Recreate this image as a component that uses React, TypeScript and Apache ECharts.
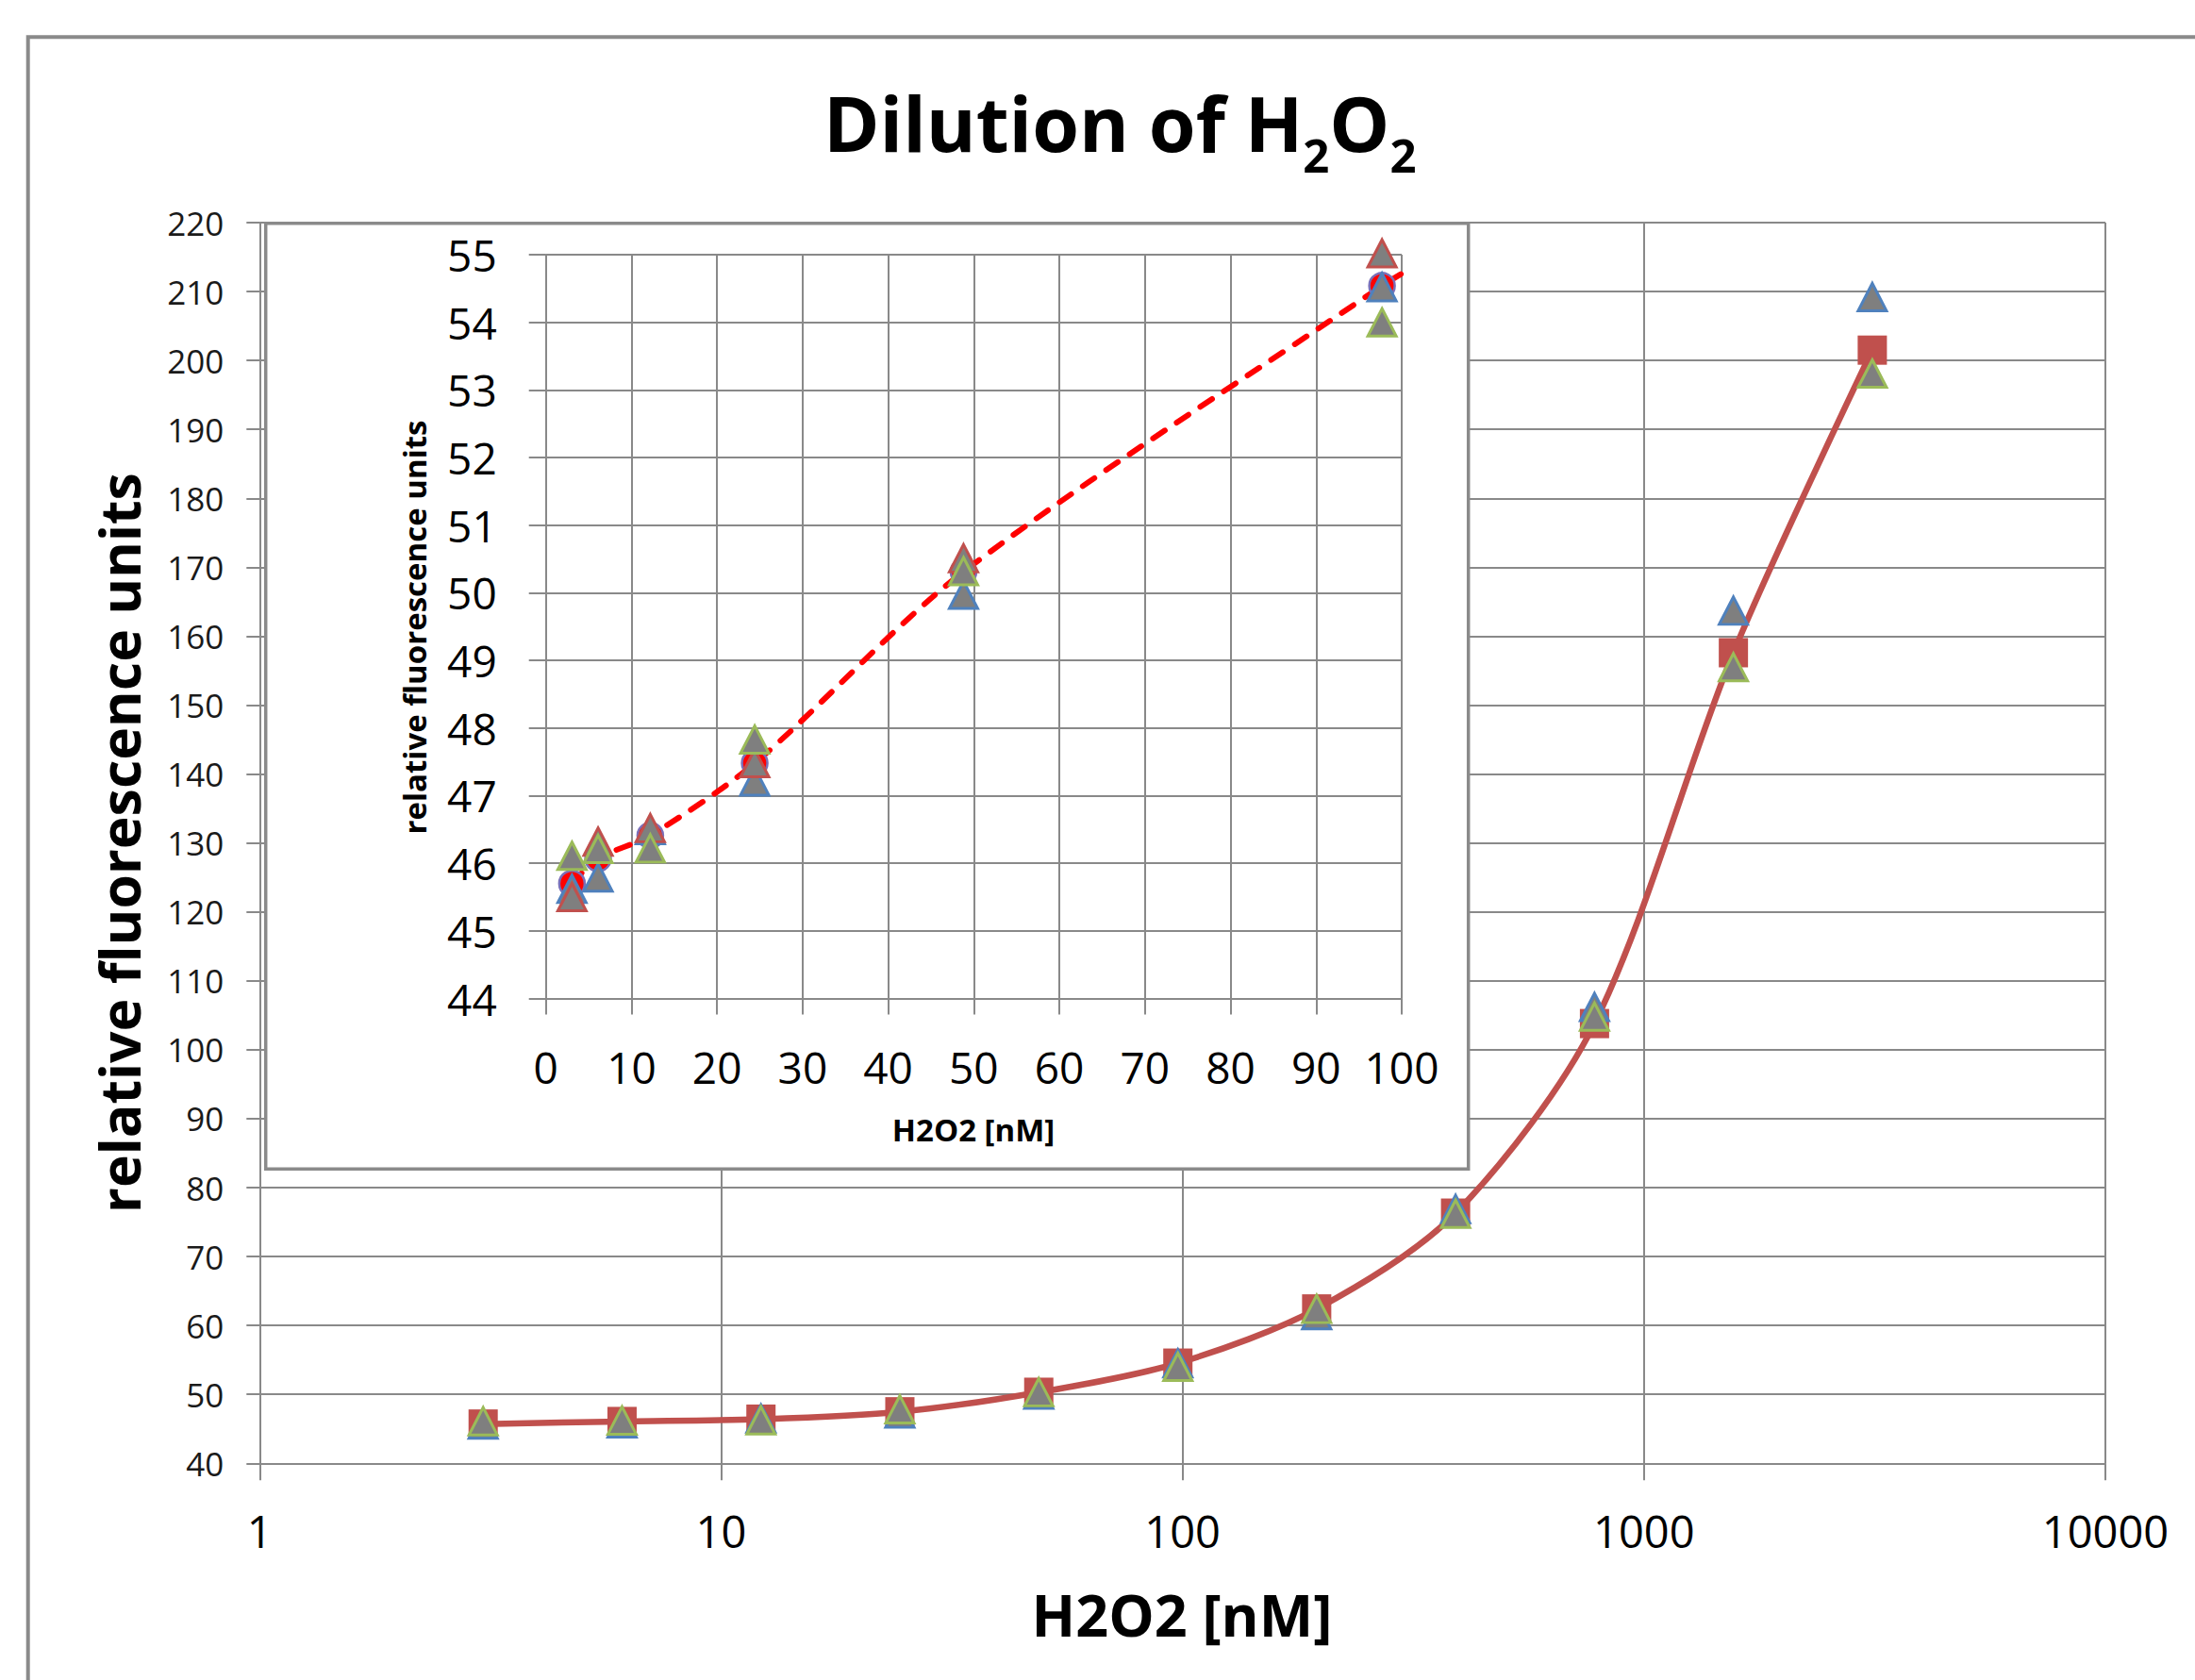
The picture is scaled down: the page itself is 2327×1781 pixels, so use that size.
import React, { useEffect, useRef } from "react";
import * as echarts from "echarts";

// ---- data ----
// H2O2 concentrations (nM), serial 1:2 dilution from 3125 nM
const concentrations = [3.05, 6.1, 12.2, 24.4, 48.8, 97.7, 195.3, 390.6, 781.3, 1562.5, 3125];
// mean relative fluorescence units (red squares / red circles)
const meanRFU = [45.7, 46.07, 46.41, 47.48, 50.31, 54.54, 62.4, 76.3, 103.8, 157.6, 201.5];
// replicate shown with blue-edged triangles
const blueRFU = [45.62, 45.79, 46.49, 47.21, 49.97, 54.52, 61.5, 76.9, 106.2, 163.7, 209.2];
// replicate shown with green-edged triangles
const greenRFU = [46.11, 46.21, 46.22, 47.83, 50.32, 54.0, 62.4, 76.2, 104.8, 155.5, 198.1];
// replicate shown with red-edged triangles (inset only)
const redRFU = [45.5, 46.32, 46.52, 47.48, 50.51, 55.02];
// number of lowest concentrations shown in the inset
const insetCount = 6;
// dashed trend line continues to the inset's right edge
const trendExtensionX = [100];
const trendExtensionY = [54.72];

// axis ranges / ticks
const mainXTicks = [1, 10, 100, 1000, 10000];
const mainY = { min: 40, max: 220, interval: 10 };
const insetX = { min: 0, max: 100, interval: 10 };
const insetY = { min: 44, max: 55, interval: 1 };

const FONT = "'Open Sans', 'Noto Sans', sans-serif";
const GRID_GRAY = "#898989";
const RED = "#C0504D";
const BLUE = "#4F81BD";
const GREEN = "#9BBB59";
const FILL_GRAY = "#7F7F7F";

const pairs = (xs: number[], ys: number[]) => ys.map((y, i) => [xs[i], y]);

function buildOption(): any {
  const lowX = concentrations.slice(0, insetCount);
  const trendData = pairs(lowX, meanRFU.slice(0, insetCount)).concat(
    pairs(trendExtensionX, trendExtensionY)
  );

  const axisLineStyle = { color: GRID_GRAY, width: 2 };
  const splitLine = { show: true, lineStyle: { color: GRID_GRAY, width: 2 } };

  const triangle = (name: string, data: number[][], edge: string, xi: number, z: number) => ({
    type: "scatter",
    name,
    xAxisIndex: xi,
    yAxisIndex: xi,
    data,
    clip: false,
    symbol: "triangle",
    symbolSize: [30, 29],
    itemStyle: { color: FILL_GRAY, borderColor: edge, borderWidth: 3, opacity: 1 },
    z,
    silent: true,
  });

  return {
    animation: false,
    backgroundColor: "#ffffff",
    grid: [
      { left: 275.3, top: 236, right: 95, bottom: 229.7 },
      { left: 578.7, top: 270, width: 907.3, height: 788.5 },
    ],
    xAxis: [
      {
        type: "log",
        logBase: 10,
        gridIndex: 0,
        min: mainXTicks[0],
        max: mainXTicks[mainXTicks.length - 1],
        axisLine: { show: true, onZero: false, lineStyle: axisLineStyle },
        axisTick: { show: true, inside: false, length: 18, lineStyle: axisLineStyle },
        minorTick: { show: false },
        minorSplitLine: { show: false },
        splitLine,
        axisLabel: {
          margin: 48,
          fontSize: 47,
          fontFamily: FONT,
          color: "#000",
          formatter: (v: number) => String(Math.round(v)),
        },
        z: 0,
      },
      {
        type: "value",
        gridIndex: 1,
        min: insetX.min,
        max: insetX.max,
        interval: insetX.interval,
        axisLine: { show: true, onZero: false, lineStyle: axisLineStyle },
        axisTick: { show: true, inside: false, length: 17, lineStyle: axisLineStyle },
        splitLine,
        axisLabel: { margin: 49, fontSize: 46, fontFamily: FONT, color: "#000", interval: 0 },
        z: 11,
      },
    ],
    yAxis: [
      {
        type: "value",
        gridIndex: 0,
        min: mainY.min,
        max: mainY.max,
        interval: mainY.interval,
        axisLine: { show: true, onZero: false, lineStyle: axisLineStyle },
        axisTick: { show: true, inside: false, length: 14, lineStyle: axisLineStyle },
        splitLine,
        axisLabel: { margin: 38, fontSize: 35, fontFamily: FONT, color: "#1a1a1a" },
        z: 0,
      },
      {
        type: "value",
        gridIndex: 1,
        min: insetY.min,
        max: insetY.max,
        interval: insetY.interval,
        axisLine: { show: true, onZero: false, lineStyle: axisLineStyle },
        axisTick: { show: true, inside: false, length: 18, lineStyle: axisLineStyle },
        splitLine,
        axisLabel: { margin: 52, fontSize: 46, fontFamily: FONT, color: "#000" },
        z: 11,
      },
    ],
    series: [
      {
        type: "line",
        name: "mean",
        xAxisIndex: 0,
        yAxisIndex: 0,
        data: pairs(concentrations, meanRFU),
        clip: false,
        smooth: 0.3,
        symbol: "rect",
        symbolSize: 31,
        showAllSymbol: true,
        itemStyle: { color: RED },
        lineStyle: { color: RED, width: 6.5 },
        z: 2,
        silent: true,
      },
      triangle("replicate A", pairs(concentrations, blueRFU), BLUE, 0, 3),
      triangle("replicate C", pairs(concentrations, greenRFU), GREEN, 0, 4),
      {
        type: "line",
        name: "trend",
        xAxisIndex: 1,
        yAxisIndex: 1,
        data: trendData,
        clip: false,
        smooth: 0.3,
        symbol: "none",
        lineStyle: { color: "#FF0000", width: 6, type: [15, 15], cap: "round" },
        z: 12,
        silent: true,
      },
      {
        type: "scatter",
        name: "mean (inset)",
        xAxisIndex: 1,
        yAxisIndex: 1,
        data: pairs(lowX, meanRFU.slice(0, insetCount)),
        clip: false,
        symbol: "circle",
        symbolSize: 27,
        itemStyle: { color: "#FF0000", borderColor: "#7B6FB8", borderWidth: 2.5, opacity: 1 },
        z: 13,
        silent: true,
      },
      triangle("replicate A (inset)", pairs(lowX, blueRFU.slice(0, insetCount)), BLUE, 1, 14),
      triangle("replicate B (inset)", pairs(lowX, redRFU), RED, 1, 15),
      triangle("replicate C (inset)", pairs(lowX, greenRFU.slice(0, insetCount)), GREEN, 1, 16),
    ],
    graphic: {
      elements: [
        {
          type: "rect",
          z: 0,
          silent: true,
          shape: { x: 29.7, y: 39.3, width: 2500, height: 2000 },
          style: { fill: "none", stroke: "#8a8a8a", lineWidth: 4 },
        },
        {
          type: "rect",
          z: 8,
          silent: true,
          shape: { x: 281.7, y: 236.7, width: 1275, height: 1002.6 },
          style: { fill: "#ffffff", stroke: "#8a8a8a", lineWidth: 3.5 },
        },
        {
          type: "text",
          z: 20,
          x: 873,
          y: 130,
          silent: true,
          style: {
            text: "{m|Dilution of H}{s|2}{m|O}{s|2}",
            align: "left",
            verticalAlign: "middle",
            fill: "#000",
            rich: {
              m: { fontSize: 80.5, fontWeight: "bold", fontFamily: FONT, fill: "#000", lineHeight: 100 },
              s: {
                fontSize: 49,
                fontWeight: "bold",
                fontFamily: FONT,
                fill: "#000",
                lineHeight: 100,
                padding: [68, 0, 0, 0],
              },
            },
          },
        },
        {
          type: "text",
          z: 20,
          x: 126,
          y: 893.5,
          rotation: Math.PI / 2,
          silent: true,
          style: {
            text: "relative fluorescence units",
            align: "center",
            verticalAlign: "middle",
            fontSize: 59,
            fontWeight: "bold",
            fontFamily: FONT,
            fill: "#000",
          },
        },
        {
          type: "text",
          z: 20,
          x: 1253,
          y: 1711,
          silent: true,
          style: {
            text: "H2O2 [nM]",
            align: "center",
            verticalAlign: "middle",
            fontSize: 61,
            fontWeight: "bold",
            fontFamily: FONT,
            fill: "#000",
          },
        },
        {
          type: "text",
          z: 20,
          x: 439,
          y: 665,
          rotation: Math.PI / 2,
          silent: true,
          style: {
            text: "relative fluorescence units",
            align: "center",
            verticalAlign: "middle",
            fontSize: 33,
            fontWeight: "bold",
            fontFamily: FONT,
            fill: "#000",
          },
        },
        {
          type: "text",
          z: 20,
          x: 1032,
          y: 1197,
          silent: true,
          style: {
            text: "H2O2 [nM]",
            align: "center",
            verticalAlign: "middle",
            fontSize: 33,
            fontWeight: "bold",
            fontFamily: FONT,
            fill: "#000",
          },
        },
      ],
    },
  };
}

export default function App() {
  const ref = useRef<HTMLDivElement>(null);
  useEffect(() => {
    if (!ref.current) return;
    const chart = echarts.init(ref.current, null, { renderer: "svg" });
    chart.setOption(buildOption());
    return () => {
      chart.dispose();
    };
  }, []);
  return (
    <div
      ref={ref}
      style={{ position: "absolute", left: 0, top: 0, width: 2327, height: 1781, background: "#ffffff" }}
    />
  );
}
